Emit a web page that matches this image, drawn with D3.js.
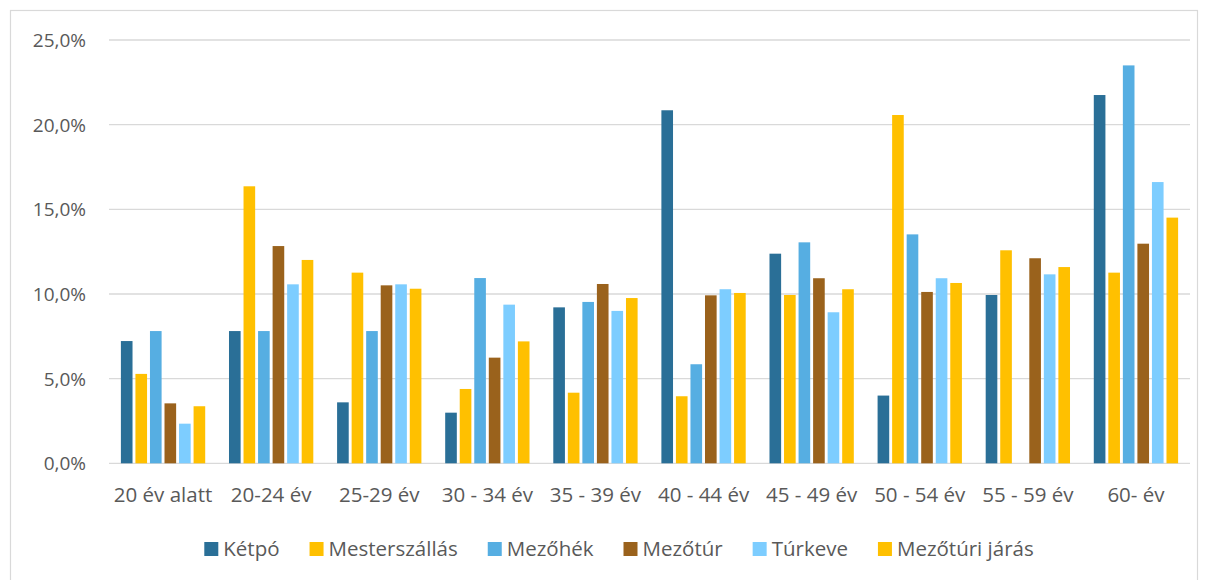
<!DOCTYPE html>
<html>
<head>
<meta charset="utf-8">
<script src="https://cdn.jsdelivr.net/npm/d3@7"></script>
<style>
  body { margin: 0; background: #fff; }
  svg text { font-family: 'Open Sans', sans-serif; fill: #595959; }
</style>
</head>
<body>
<div id="app"></div>
<script>
'use strict'

// Data
const categories = ['20 év alatt', '20-24 év', '25-29 év', '30 - 34 év', '35 - 39 év',
  '40 - 44 év', '45 - 49 év', '50 - 54 év', '55 - 59 év', '60- év']

const seriesNames = ['Kétpó', 'Mesterszállás', 'Mezőhék', 'Mezőtúr', 'Túrkeve', 'Mezőtúri járás']

const ketpo = [7.22, 7.81, 3.60, 2.99, 9.21, 20.85, 12.38, 4.00, 9.94, 21.75]
const mesterszallas = [5.28, 16.36, 11.26, 4.39, 4.17, 3.96, 9.94, 20.57, 12.58, 11.26]
const mezohek = [7.81, 7.81, 7.81, 10.94, 9.53, 5.85, 13.05, 13.52, 0, 23.50]
const mezotur = [3.54, 12.83, 10.51, 6.24, 10.59, 9.92, 10.93, 10.12, 12.11, 12.97]
const turkeve = [2.34, 10.57, 10.57, 9.37, 9.00, 10.28, 8.92, 10.93, 11.16, 16.61]
const mezoturiJaras = [3.37, 12.01, 10.31, 7.20, 9.76, 10.06, 10.28, 10.65, 11.59, 14.51]

const yTicks = [0, 5, 10, 15, 20, 25]

const colors = ['#2a6f97', '#ffc000', '#56aee2', '#9a621c', '#7dcdff', '#ffc000']

const seriesValues = [ketpo, mesterszallas, mezohek, mezotur, turkeve, mezoturiJaras]

const setWidth = 1208
const setHeight = 580

const setPaddings = {
  top: 40,
  bottom: 117,
  left: 109,
  right: 18
}

const svg = d3.select('#app')
  .append('svg')
  .attr('width', setWidth)
  .attr('height', setHeight)

// chart border
svg.append('rect')
  .attr('x', 10.5)
  .attr('y', 10.5)
  .attr('width', 1187)
  .attr('height', 580)
  .attr('fill', 'none')
  .attr('stroke', '#d9d9d9')
  .attr('stroke-width', 1.2)

const scaleX = d3.scaleBand()
  .domain(categories)
  .range([setPaddings.left, setWidth - setPaddings.right])
  .paddingInner(0.22)
  .paddingOuter(0.11)

const scaleInner = d3.scaleBand()
  .domain(seriesNames)
  .range([0, scaleX.bandwidth()])
  .paddingInner(0.2)

const scaleY = d3.scaleLinear()
  .domain([0, 25])
  .range([setHeight - setPaddings.bottom + 0.3, setPaddings.top])

// gridlines
svg.append('g')
  .selectAll('line')
  .data(yTicks)
  .enter()
  .append('line')
  .attr('x1', setPaddings.left)
  .attr('x2', setWidth - setPaddings.right)
  .attr('y1', d => scaleY(d))
  .attr('y2', d => scaleY(d))
  .attr('stroke', '#d9d9d9')
  .attr('stroke-width', 1.3)

// y axis labels
svg.append('g')
  .selectAll('text')
  .data(yTicks)
  .enter()
  .append('text')
  .attr('x', 86)
  .attr('y', d => scaleY(d) + 7)
  .attr('text-anchor', 'end')
  .style('font-size', '19px')
  .text(d => d.toFixed(1).replace('.', ',') + '%')

// bars
const rows = []
seriesValues.forEach((vals, s) => {
  vals.forEach((v, i) => {
    rows.push({ cat: categories[i], name: seriesNames[s], s, v })
  })
})

svg.append('g')
  .selectAll('rect')
  .data(rows.filter(d => d.v > 0))
  .enter()
  .append('rect')
  .attr('x', d => scaleX(d.cat) + scaleInner(d.name))
  .attr('width', scaleInner.bandwidth())
  .attr('y', d => scaleY(d.v))
  .attr('height', d => scaleY(0) - scaleY(d.v))
  .attr('fill', d => colors[d.s])

// x axis labels
svg.append('g')
  .selectAll('text')
  .data(categories)
  .enter()
  .append('text')
  .attr('x', d => scaleX(d) + scaleX.bandwidth() / 2)
  .attr('y', 502)
  .attr('text-anchor', 'middle')
  .style('font-size', '20.5px')
  .text(d => d)

// legend
const legend = svg.append('g')
let cursor = 0
seriesNames.forEach((name, i) => {
  const g = legend.append('g')
  g.append('rect')
    .attr('x', 0)
    .attr('y', -14)
    .attr('width', 14)
    .attr('height', 14)
    .attr('fill', colors[i])
  const t = g.append('text')
    .attr('x', 19)
    .attr('y', 0)
    .style('font-size', '20.5px')
    .text(name)
  const w = 19 + t.node().getComputedTextLength()
  g.attr('transform', `translate(${cursor},0)`)
  cursor += w + 30
})
const totalW = cursor - 30
legend.attr('transform', `translate(${619 - totalW / 2},556)`)
</script>
</body>
</html>
